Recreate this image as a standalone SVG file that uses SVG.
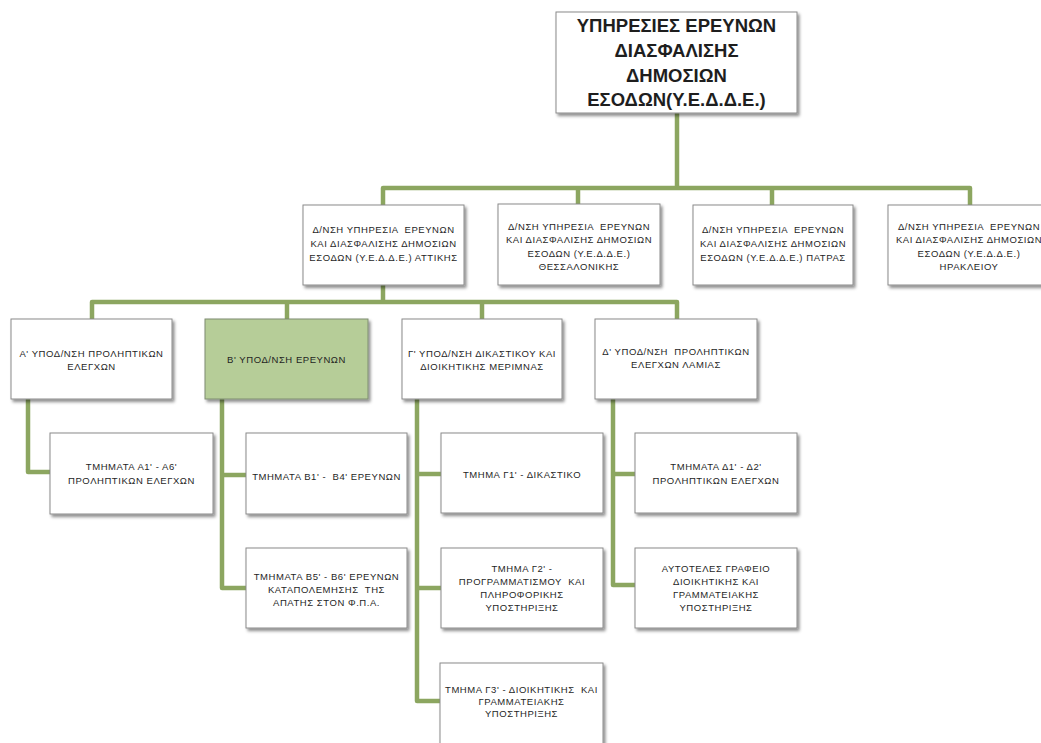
<svg xmlns="http://www.w3.org/2000/svg" width="1041" height="743" viewBox="0 0 1041 743">
<defs>
<filter id="sh" x="-10%" y="-10%" width="125%" height="130%">
<feDropShadow dx="2" dy="2.5" stdDeviation="1.5" flood-color="#000" flood-opacity="0.45"/>
</filter>
<style>
.box{fill:#fff;stroke:#8a8a8a;stroke-width:1;filter:url(#sh)}
.green{fill:#b6cd98;stroke:#7f8c70}
.t{font-family:"Liberation Sans",Arial,sans-serif;font-size:9.5px;letter-spacing:0.55px;fill:#1f1f1f;text-anchor:middle;white-space:pre}
.big{font-family:"Liberation Sans",Arial,sans-serif;font-size:18.5px;fill:#1e1e1e;text-anchor:middle;font-weight:bold}
.c{fill:none;stroke:#8ca660;stroke-width:4.5;stroke-linejoin:round;stroke-linecap:butt}
</style>
</defs>
<rect width="1041" height="743" fill="#fff"/>
<g id="connectors">
<path class="c" d="M677,113 V188"/>
<path class="c" d="M383,205 V188 H970 V205"/>
<path class="c" d="M578,188 V204"/>
<path class="c" d="M772,188 V205"/>
<path class="c" d="M383,285 V302"/>
<path class="c" d="M92,319 V302 H677 V319"/>
<path class="c" d="M287,302 V319"/>
<path class="c" d="M482,302 V319"/>
<path class="c" d="M28,399 V472 H50"/>
<path class="c" d="M222,399 V588 H246"/>
<path class="c" d="M222,475 H246"/>
<path class="c" d="M417,399 V701 H440"/>
<path class="c" d="M417,474 H441"/>
<path class="c" d="M417,588 H441"/>
<path class="c" d="M613,399 V585 H635"/>
<path class="c" d="M613,474 H635"/>
</g>
<g id="n-root">
<rect class="box" x="556" y="12" width="241" height="101"/>
<text class="big" x="676.5" y="32">ΥΠΗΡΕΣΙΕΣ ΕΡΕΥΝΩΝ</text>
<text class="big" x="676.5" y="57">ΔΙΑΣΦΑΛΙΣΗΣ</text>
<text class="big" x="676.5" y="82">ΔΗΜΟΣΙΩΝ</text>
<text class="big" x="676.5" y="106">ΕΣΟΔΩΝ(Υ.Ε.Δ.Δ.Ε.)</text>
</g>
<g id="n-attiki">
<rect class="box" x="303" y="205" width="161" height="80"/>
<text class="t" x="383.5" y="233">Δ/ΝΣΗ ΥΠΗΡΕΣΙΑ  ΕΡΕΥΝΩΝ</text>
<text class="t" x="383.5" y="247">ΚΑΙ ΔΙΑΣΦΑΛΙΣΗΣ ΔΗΜΟΣΙΩΝ</text>
<text class="t" x="383.5" y="261">ΕΣΟΔΩΝ (Υ.Ε.Δ.Δ.Ε.) ΑΤΤΙΚΗΣ</text>
</g>
<g id="n-thess">
<rect class="box" x="498" y="204" width="162" height="81"/>
<text class="t" x="579" y="230">Δ/ΝΣΗ ΥΠΗΡΕΣΙΑ  ΕΡΕΥΝΩΝ</text>
<text class="t" x="579" y="243">ΚΑΙ ΔΙΑΣΦΑΛΙΣΗΣ ΔΗΜΟΣΙΩΝ</text>
<text class="t" x="579" y="257">ΕΣΟΔΩΝ (Υ.Ε.Δ.Δ.Ε.)</text>
<text class="t" x="579" y="270">ΘΕΣΣΑΛΟΝΙΚΗΣ</text>
</g>
<g id="n-patras">
<rect class="box" x="693" y="205" width="160" height="80"/>
<text class="t" x="773" y="233">Δ/ΝΣΗ ΥΠΗΡΕΣΙΑ  ΕΡΕΥΝΩΝ</text>
<text class="t" x="773" y="247">ΚΑΙ ΔΙΑΣΦΑΛΙΣΗΣ ΔΗΜΟΣΙΩΝ</text>
<text class="t" x="773" y="261">ΕΣΟΔΩΝ (Υ.Ε.Δ.Δ.Ε.) ΠΑΤΡΑΣ</text>
</g>
<g id="n-herak">
<rect class="box" x="888" y="205" width="162" height="80"/>
<text class="t" x="969" y="230">Δ/ΝΣΗ ΥΠΗΡΕΣΙΑ  ΕΡΕΥΝΩΝ</text>
<text class="t" x="969" y="243">ΚΑΙ ΔΙΑΣΦΑΛΙΣΗΣ ΔΗΜΟΣΙΩΝ</text>
<text class="t" x="969" y="257">ΕΣΟΔΩΝ (Υ.Ε.Δ.Δ.Ε.)</text>
<text class="t" x="969" y="270">ΗΡΑΚΛΕΙΟΥ</text>
</g>
<g id="n-a">
<rect class="box" x="11" y="319" width="161" height="80"/>
<text class="t" x="91.5" y="357">Α' ΥΠΟΔ/ΝΣΗ ΠΡΟΛΗΠΤΙΚΩΝ</text>
<text class="t" x="91.5" y="370">ΕΛΕΓΧΩΝ</text>
</g>
<g id="n-b">
<rect class="box green" x="205" y="319" width="163" height="80"/>
<text class="t" x="286.5" y="363">Β' ΥΠΟΔ/ΝΣΗ ΕΡΕΥΝΩΝ</text>
</g>
<g id="n-g">
<rect class="box" x="402" y="319" width="160" height="80"/>
<text class="t" x="482" y="357">Γ' ΥΠΟΔ/ΝΣΗ ΔΙΚΑΣΤΙΚΟΥ ΚΑΙ</text>
<text class="t" x="482" y="370">ΔΙΟΙΚΗΤΙΚΗΣ ΜΕΡΙΜΝΑΣ</text>
</g>
<g id="n-d">
<rect class="box" x="595" y="319" width="162" height="80"/>
<text class="t" x="676" y="355">Δ' ΥΠΟΔ/ΝΣΗ  ΠΡΟΛΗΠΤΙΚΩΝ</text>
<text class="t" x="676" y="368">ΕΛΕΓΧΩΝ ΛΑΜΙΑΣ</text>
</g>
<g id="n-a1">
<rect class="box" x="50" y="433" width="163" height="81"/>
<text class="t" x="131.5" y="470">ΤΜΗΜΑΤΑ Α1' - Α6'</text>
<text class="t" x="131.5" y="484">ΠΡΟΛΗΠΤΙΚΩΝ ΕΛΕΓΧΩΝ</text>
</g>
<g id="n-b1">
<rect class="box" x="246" y="433" width="161" height="81"/>
<text class="t" x="326.5" y="480">ΤΜΗΜΑΤΑ Β1' -  Β4' ΕΡΕΥΝΩΝ</text>
</g>
<g id="n-b5">
<rect class="box" x="246" y="548" width="161" height="80"/>
<text class="t" x="326.5" y="580">ΤΜΗΜΑΤΑ Β5' - Β6' ΕΡΕΥΝΩΝ</text>
<text class="t" x="326.5" y="593">ΚΑΤΑΠΟΛΕΜΗΣΗΣ  ΤΗΣ</text>
<text class="t" x="326.5" y="606">ΑΠΑΤΗΣ ΣΤΟΝ Φ.Π.Α.</text>
</g>
<g id="n-g1">
<rect class="box" x="441" y="433" width="162" height="80"/>
<text class="t" x="522" y="478">ΤΜΗΜΑ Γ1' - ΔΙΚΑΣΤΙΚΟ</text>
</g>
<g id="n-g2">
<rect class="box" x="441" y="548" width="162" height="80"/>
<text class="t" x="522" y="572">ΤΜΗΜΑ Γ2' -</text>
<text class="t" x="522" y="585">ΠΡΟΓΡΑΜΜΑΤΙΣΜΟΥ  ΚΑΙ</text>
<text class="t" x="522" y="598">ΠΛΗΡΟΦΟΡΙΚΗΣ</text>
<text class="t" x="522" y="611">ΥΠΟΣΤΗΡΙΞΗΣ</text>
</g>
<g id="n-g3">
<rect class="box" x="440" y="663" width="163" height="90"/>
<text class="t" x="521.5" y="693">ΤΜΗΜΑ Γ3' - ΔΙΟΙΚΗΤΙΚΗΣ  ΚΑΙ</text>
<text class="t" x="521.5" y="705">ΓΡΑΜΜΑΤΕΙΑΚΗΣ</text>
<text class="t" x="521.5" y="717">ΥΠΟΣΤΗΡΙΞΗΣ</text>
</g>
<g id="n-d1">
<rect class="box" x="635" y="433" width="162" height="80"/>
<text class="t" x="716" y="470">ΤΜΗΜΑΤΑ Δ1' - Δ2'</text>
<text class="t" x="716" y="484">ΠΡΟΛΗΠΤΙΚΩΝ ΕΛΕΓΧΩΝ</text>
</g>
<g id="n-aut">
<rect class="box" x="635" y="548" width="162" height="80"/>
<text class="t" x="716" y="572">ΑΥΤΟΤΕΛΕΣ ΓΡΑΦΕΙΟ</text>
<text class="t" x="716" y="585">ΔΙΟΙΚΗΤΙΚΗΣ ΚΑΙ</text>
<text class="t" x="716" y="598">ΓΡΑΜΜΑΤΕΙΑΚΗΣ</text>
<text class="t" x="716" y="611">ΥΠΟΣΤΗΡΙΞΗΣ</text>
</g>
</svg>
